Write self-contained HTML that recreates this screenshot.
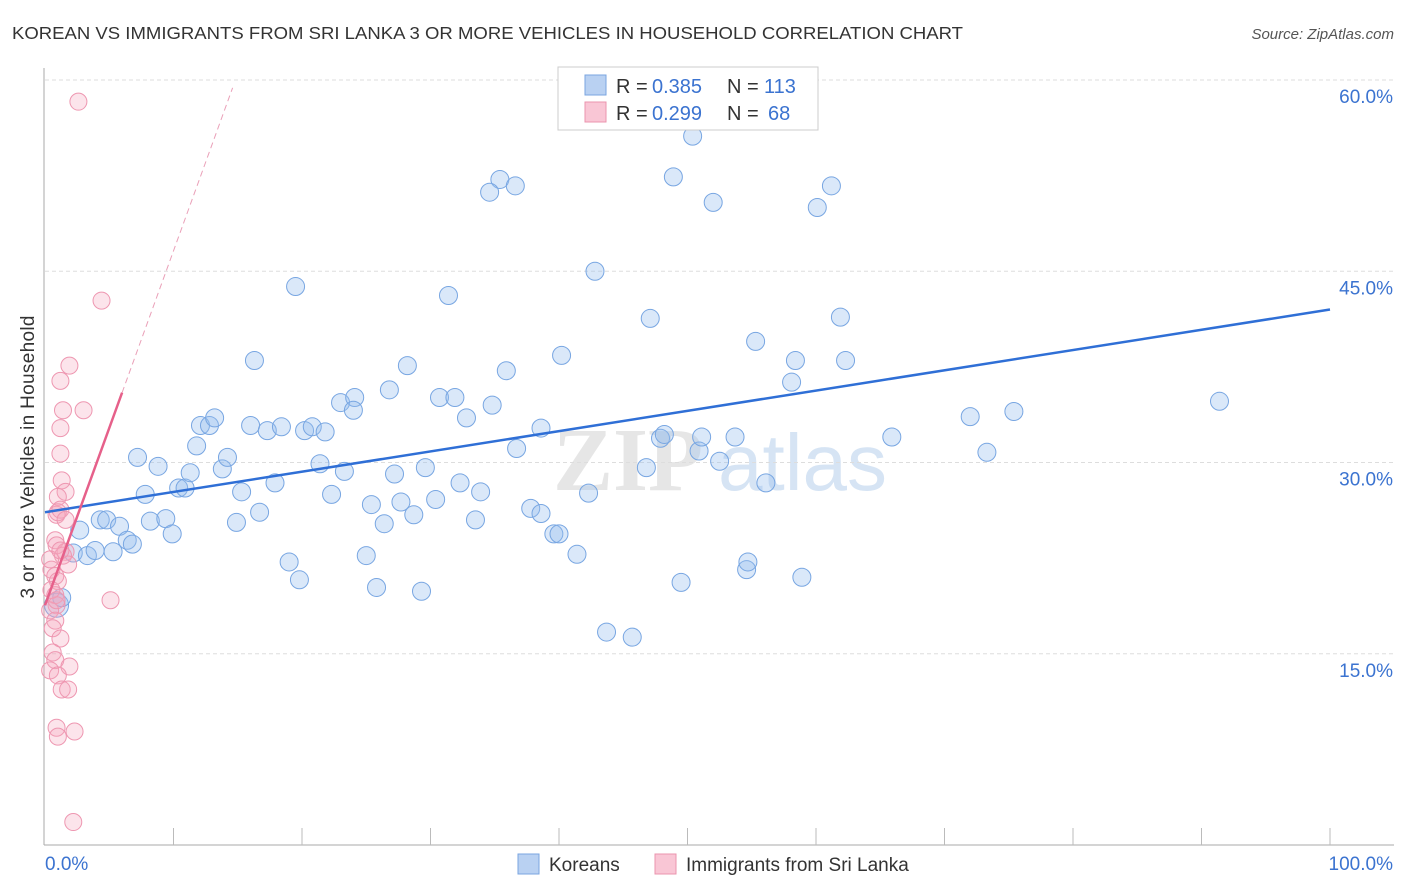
<!DOCTYPE html>
<html><head><meta charset="utf-8"><style>
body{margin:0;background:#fff;font-family:"Liberation Sans",sans-serif}
#wrap{position:relative;width:1406px;height:892px;overflow:hidden}
</style></head><body><div id="wrap">
<svg id="svg" width="1406" height="892" xmlns="http://www.w3.org/2000/svg">
<text x="12" y="39" font-size="17.5" fill="#333" textLength="951" lengthAdjust="spacingAndGlyphs">KOREAN VS IMMIGRANTS FROM SRI LANKA 3 OR MORE VEHICLES IN HOUSEHOLD CORRELATION CHART</text>
<text x="1394" y="39" font-size="15" fill="#555" font-style="italic" text-anchor="end">Source: ZipAtlas.com</text>
<text x="34" y="457" font-size="19" fill="#333" text-anchor="middle" textLength="283" transform="rotate(-90 34 457)">3 or more Vehicles in Household</text>
<g><text x="553" y="490" font-size="90" font-family="Liberation Serif,serif" fill="#e6e6e6" font-weight="bold">ZIP</text><text x="718" y="490" font-size="80" fill="#d6e4f4">atlas</text></g>
<g id="grid"></g><g id="marks"></g><g id="lines"></g>
<g>
<rect x="558" y="67" width="260" height="63" fill="#fff" stroke="#ccc"/>
<rect x="585" y="75" width="21" height="20" fill="#b9d1f2" stroke="#7aa5e0"/>
<rect x="585" y="102" width="21" height="20" fill="#f9c6d5" stroke="#eb94ae"/>
<text y="93" font-size="20" fill="#333"><tspan x="616">R =</tspan><tspan x="652" fill="#3b73d0">0.385</tspan><tspan x="727">N =</tspan><tspan x="764" fill="#3b73d0">113</tspan></text>
<text y="120" font-size="20" fill="#333"><tspan x="616">R =</tspan><tspan x="652" fill="#3b73d0">0.299</tspan><tspan x="727">N =</tspan><tspan x="768" fill="#3b73d0">68</tspan></text>
</g>
<g>
<rect x="518" y="854" width="21" height="20" fill="#b9d1f2" stroke="#7aa5e0"/>
<text x="549" y="871" font-size="19" fill="#333">Koreans</text>
<rect x="655" y="854" width="21" height="20" fill="#f9c6d5" stroke="#eb94ae"/>
<text x="686" y="871" font-size="19" fill="#333">Immigrants from Sri Lanka</text>
</g>
</svg></div>
<script>
const yTicks=[15,30,45,60];
const yTickLabels=["15.0%","30.0%","45.0%","60.0%"];
const xLabels=["0.0%","100.0%"];
const koreanX=[0.9,1.3,2.7,2.2,3.3,3.9,4.3,4.8,5.3,5.8,6.4,6.8,7.2,7.8,8.2,8.8,9.4,9.9,10.4,10.9,11.3,11.8,12.1,12.8,13.2,13.8,14.2,14.9,15.3,16.3,16.0,16.7,17.3,17.9,18.4,19.0,19.5,19.8,20.2,20.8,21.4,21.8,22.3,23.0,23.3,24.1,24.0,25.0,25.4,25.8,26.4,26.8,27.2,27.7,28.2,28.7,29.3,29.6,30.4,30.7,31.4,31.9,32.3,32.8,33.5,33.9,34.8,35.4,34.6,36.6,35.9,36.7,37.8,38.6,38.6,39.6,40.0,40.2,41.4,42.3,42.8,43.7,45.7,46.8,47.1,47.9,48.2,48.9,49.5,50.4,50.9,51.1,52.0,52.5,53.7,54.6,54.7,55.3,56.1,58.1,58.4,58.9,60.1,61.2,61.9,62.3,65.9,72.0,73.3,75.4,91.4];
const koreanY=[18.8,19.4,24.7,22.9,22.7,23.1,25.5,25.5,23.0,25.0,23.9,23.6,30.4,27.5,25.4,29.7,25.6,24.4,28.0,28.0,29.2,31.3,32.9,32.9,33.5,29.5,30.4,25.3,27.7,38.0,32.9,26.1,32.5,28.4,32.8,22.2,43.8,20.8,32.5,32.8,29.9,32.4,27.5,34.7,29.3,35.1,34.1,22.7,26.7,20.2,25.2,35.7,29.1,26.9,37.6,25.9,19.9,29.6,27.1,35.1,43.1,35.1,28.4,33.5,25.5,27.7,34.5,52.2,51.2,51.7,37.2,31.1,26.4,32.7,26.0,24.4,24.4,38.4,22.8,27.6,45.0,16.7,16.3,29.6,41.3,31.9,32.2,52.4,20.6,55.6,30.9,32.0,50.4,30.1,32.0,21.6,22.2,39.5,28.4,36.3,38.0,21.0,50.0,51.7,41.4,38.0,32.0,33.6,30.8,34.0,34.8];
const lankaX=[2.6,4.4,1.9,1.2,1.4,3.0,1.2,1.2,1.3,1.6,1.0,0.9,1.0,1.2,0.8,0.9,1.6,1.4,1.8,0.5,0.8,1.0,0.8,0.9,0.4,0.8,0.6,1.2,0.6,0.8,1.9,0.4,1.0,1.3,1.8,0.9,1.0,2.3,2.2,5.1,0.4,0.5,0.9,1.2,1.6];
const lankaY=[58.3,42.7,37.6,36.4,34.1,34.1,32.7,30.7,28.6,27.7,27.3,25.9,26.1,26.3,23.9,23.5,23.0,22.7,22.0,21.6,21.1,20.7,19.6,18.8,18.4,17.6,17.0,16.2,15.1,14.5,14.0,13.7,13.3,12.2,12.2,9.2,8.5,8.9,1.8,19.2,22.4,20.0,19.2,23.1,25.5];
const koreanTrend=[26.1,42.0];
const lankaTrend=[18.8,2.78];
const NS="http://www.w3.org/2000/svg";
const X=v=>45+v*12.85, Y=v=>845-v*12.75;
function mk(t,a,p){const e=document.createElementNS(NS,t);for(const k in a)e.setAttribute(k,a[k]);p.appendChild(e);return e;}
const grid=document.getElementById('grid'),marks=document.getElementById('marks'),lines=document.getElementById('lines');
yTicks.forEach((t,i)=>{
 const l=mk('line',{x1:45,x2:1394,y1:Y(t),y2:Y(t),stroke:'#ddd','stroke-dasharray':'4 3'},grid);
 
 
 const tx=mk('text',{x:1393,y:Y(t)+23,'font-size':19,fill:'#3b73d0','text-anchor':'end'},grid);tx.textContent=yTickLabels[i];
 
 
});
const ax=mk('line',{x1:44,x2:44,y1:68,y2:845,stroke:'#aaa'},grid);


const bx=mk('line',{x1:44,x2:1394,y1:845,y2:845,stroke:'#aaa'},grid);


for(let i=1;i<=10;i++){const t=mk('line',{x1:X(i*10),x2:X(i*10),y1:828,y2:845,stroke:'#bbb'},grid);
 
 }
[[0,'start',45],[100,'end',1393]].forEach((d,i)=>{const t=mk('text',{x:d[2],y:870,'font-size':19,fill:'#3b73d0','text-anchor':d[1]},grid);t.textContent=xLabels[i];
 
 });
koreanX.forEach((x,i)=>{const c=mk('circle',{cx:X(x),cy:Y(koreanY[i]),r:i==0?12:9,fill:'rgba(150,188,238,0.35)',stroke:'#78a6e2','stroke-width':1},marks);
 
 });
lankaX.forEach((x,i)=>{const c=mk('circle',{cx:X(x),cy:Y(lankaY[i]),r:8.5,fill:'rgba(245,165,190,0.3)',stroke:'#ee97b1','stroke-width':1},marks);
 
 });
const kl=mk('line',{x1:X(0),y1:Y(koreanTrend[0]),x2:X(100),y2:Y(koreanTrend[1]),stroke:'#2f6fd6','stroke-width':2.5},lines);


const ls=mk('line',{x1:X(0),y1:Y(lankaTrend[0]),x2:X(6),y2:Y(lankaTrend[0]+6*lankaTrend[1]),stroke:'#e6608a','stroke-width':2.5},lines);


const ld=mk('line',{x1:X(6),y1:Y(lankaTrend[0]+6*lankaTrend[1]),x2:X(14.6),y2:Y(lankaTrend[0]+14.6*lankaTrend[1]),stroke:'#eaa0b8','stroke-width':1,'stroke-dasharray':'6 4'},lines);


</script></body></html>
